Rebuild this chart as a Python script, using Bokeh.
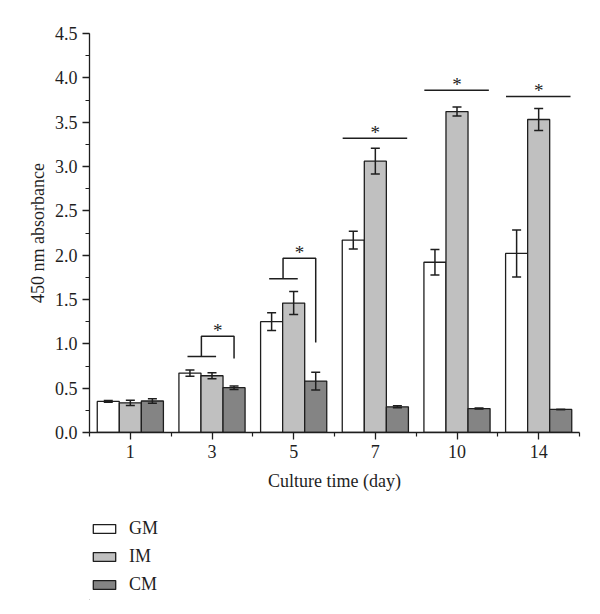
from bokeh.plotting import figure
from bokeh.layouts import column
from bokeh.models import (ColumnDataSource, Whisker, TeeHead, Range1d, FixedTicker,
                          SingleIntervalTicker, Legend, LegendItem, PrintfTickFormatter)
from bokeh.core.properties import value
from bokeh.embed import file_html
from bokeh.resources import INLINE

# ---- data ----
days = ["1", "3", "5", "7", "10", "14"]
series = ["GM", "IM", "CM"]
gm = [0.35, 0.67, 1.25, 2.17, 1.92, 2.02]
gm_err = [0.01, 0.035, 0.10, 0.10, 0.145, 0.265]
im = [0.335, 0.64, 1.46, 3.06, 3.62, 3.53]
im_err = [0.03, 0.034, 0.13, 0.145, 0.05, 0.125]
cm = [0.355, 0.505, 0.58, 0.29, 0.27, 0.26]
cm_err = [0.025, 0.02, 0.10, 0.012, 0.006, 0.0]

# significance marks: bracket type (days 3, 5)
br_day_idx = [1, 2]
br_low_line = [0.857, 1.733]
br_top = [1.086, 1.966]
br_right_end = [0.835, 1.015]
# significance marks: straight line (days 7, 10, 14)
ln_day_idx = [3, 4, 5]
ln_y = [3.32, 3.86, 3.79]

FONT = "Liberation Serif"
INK = "#1e1e1e"
colors = ["#ffffff", "#c0c0c0", "#848484"]
bw = 0.27
offsets = [-bw, 0.0, bw]
W = 592

p = figure(width=W, height=500, output_backend="svg", toolbar_location=None,
           x_range=Range1d(-0.5, 5.5), y_range=Range1d(0, 4.5),
           min_border_left=89, min_border_right=13, min_border_top=33, min_border_bottom=68)
p.outline_line_color = None
p.xgrid.grid_line_color = None
p.ygrid.grid_line_color = None

xs = list(range(len(days)))
for vals, errs, off, col in zip([gm, im, cm], [gm_err, im_err, cm_err], offsets, colors):
    xpos = [x + off for x in xs]
    src = ColumnDataSource(dict(x=xpos, top=vals,
                                upper=[v + e for v, e in zip(vals, errs)],
                                lower=[v - e for v, e in zip(vals, errs)]))
    p.vbar(x="x", top="top", width=bw, source=src, fill_color=col,
           line_color=INK, line_width=1.3)
    w = Whisker(base="x", upper="upper", lower="lower", source=src, level="overlay",
                line_color=INK, line_width=1.5,
                upper_head=TeeHead(size=9, line_color=INK, line_width=1.5),
                lower_head=TeeHead(size=9, line_color=INK, line_width=1.5))
    p.add_layout(w)

STAR_OFF = -6
# bracket significance marks
for i, lo, top, rend in zip(br_day_idx, br_low_line, br_top, br_right_end):
    p.line([i - 0.3, i + 0.05], [lo, lo], line_color=INK, line_width=1.5)
    p.line([i - 0.13, i - 0.13, i + 0.27, i + 0.27], [lo, top, top, rend],
           line_color=INK, line_width=1.5)
p.text(x=[i + 0.07 for i in br_day_idx], y=br_top, text=["*"] * len(br_day_idx),
       text_font=value(FONT), text_font_size="19px", text_color=INK,
       text_align="center", text_baseline="alphabetic", y_offset=STAR_OFF)

for i, yv in zip(ln_day_idx, ln_y):
    p.line([i - 0.4, i + 0.39], [yv, yv], line_color=INK, line_width=1.5)
p.text(x=ln_day_idx, y=ln_y, text=["*"] * len(ln_day_idx),
       text_font=value(FONT), text_font_size="19px", text_color=INK,
       text_align="center", text_baseline="alphabetic", y_offset=STAR_OFF)

# axes
xa = p.xaxis[0]
xa.ticker = FixedTicker(ticks=xs, minor_ticks=[x - 0.5 for x in xs] + [5.5])
xa.major_label_overrides = {i: d for i, d in enumerate(days)}
xa.axis_label = "Culture time (day)"
ya = p.yaxis[0]
ya.ticker = SingleIntervalTicker(interval=0.5, num_minor_ticks=2)
ya.axis_label = "450 nm absorbance"
ya.formatter = PrintfTickFormatter(format="%.1f")

for ax in (xa, ya):
    ax.axis_line_color = INK
    ax.axis_line_width = 1.3
    ax.major_tick_line_color = INK
    ax.minor_tick_line_color = INK
    ax.major_tick_line_width = 1.3
    ax.minor_tick_line_width = 1.2
    ax.major_tick_in = 0
    ax.major_tick_out = 7
    ax.minor_tick_in = 0
    ax.minor_tick_out = 4
    ax.major_label_text_font = FONT
    ax.major_label_text_font_size = "18px"
    ax.major_label_text_color = INK
    ax.axis_label_text_font = FONT
    ax.axis_label_text_font_size = "18px"
    ax.axis_label_text_font_style = "normal"
    ax.axis_label_text_color = INK
xa.major_label_standoff = 5
xa.axis_label_standoff = 10
ya.major_label_standoff = 5
ya.axis_label_standoff = 4

# legend panel (glyph swatches only; their single points lie outside the view)
pl = figure(width=W, height=100, output_backend="svg", toolbar_location=None,
            x_range=Range1d(0, 1), y_range=Range1d(0, 1), min_border=0)
pl.axis.visible = False
pl.xgrid.grid_line_color = None
pl.ygrid.grid_line_color = None
pl.outline_line_color = None
leg_r = [pl.vbar(x=[-5], top=[-5], bottom=[-6], width=0.1, fill_color=c,
                 line_color=INK, line_width=1.3)
         for c in colors]
legend = Legend(items=[LegendItem(label=s, renderers=[r]) for s, r in zip(series, leg_r)],
                location=(1, 5), orientation="vertical",
                padding=0, margin=0, spacing=7, border_line_color=None,
                background_fill_alpha=0, glyph_width=28, glyph_height=11,
                label_height=20, label_standoff=11,
                label_text_font=FONT, label_text_font_size="18px", label_text_color=INK)
pl.add_layout(legend, "center")

open("out.html", "w").write(file_html(column(p, pl, spacing=0), INLINE))
